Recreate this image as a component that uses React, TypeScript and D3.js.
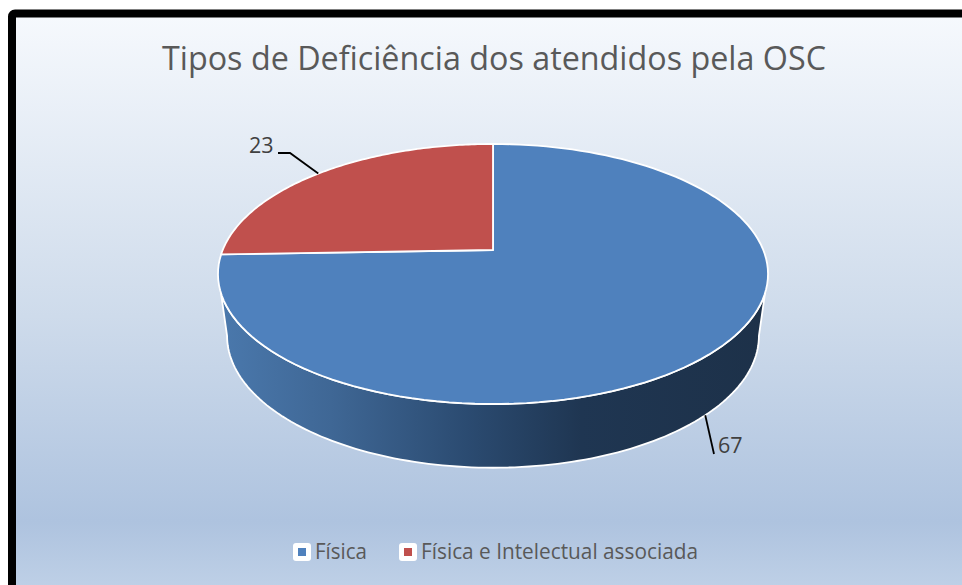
import React from "react";
import * as d3 from "d3";

const categories = ["Física", "Física e Intelectual associada"];
const values = [67, 23];
const colors = ["#4F81BD", "#C0504D"];
const titleText = "Tipos de Deficiência dos atendidos pela OSC";

const W = 962, H = 585;
const cx = 493, topY = 250, R = 270.3, A = 125.6, K = 0.1846;
const botY = 320, Rb = 264, Ab = 130, Kb = 0.12;

// perspective projection of a point at angle a (clockwise from the back of the disc)
const project = (a: number, r: number, amp: number, y0: number, k: number): [number, number] => {
  const u = Math.sin(a), v = -Math.cos(a), w = 1 - k * v;
  return [cx + (r * u) / w, y0 + (amp * v) / w];
};
const top = (a: number) => project(a, R, A, topY, K);
const bottom = (a: number) => project(a, Rb, Ab, botY, Kb);

const line = d3.line();
const sample = (a0: number, a1: number, f: (a: number) => [number, number]) =>
  d3.range(0, 121).map((i) => f(a0 + ((a1 - a0) * i) / 120));

const pie = d3.pie<number>().sort(null).startAngle(0).endAngle(2 * Math.PI);
const arcs = pie(values);

const sliceD = (a0: number, a1: number) =>
  line([[cx, topY], ...sample(a0, a1, top)]) + "Z";

// the wall leaves the rim a little below its widest point and reaches the lower rim at that rim's widest point
const wallStart = 1.9;
const widestB = Math.PI / 2 + Math.asin(Kb);
const wallD =
  line([
    ...sample(wallStart, 2 * Math.PI - wallStart, top),
    ...sample(2 * Math.PI - widestB, widestB, bottom),
  ]) + "Z";

const wallStops: [number, string][] = [
  [0, "#4A78AC"],
  [0.2, "#3F6795"],
  [0.45, "#2B4B71"],
  [0.66, "#1F3652"],
  [1, "#1D3149"],
];
const bgStops: [number, string][] = [
  [0, "#F6F9FD"],
  [0.5, "#CEDBEB"],
  [0.84, "#AEC3DF"],
  [1, "#C6D6EA"],
];

const legendX = [300, 406];
const legendLabelX = [315, 421];
const legendY = 552;

export default function App() {
  const a67 = arcs[0].startAngle + 2.31;
  const a23 = arcs[1].startAngle + 0.79;
  const p67 = bottom(a67);
  const p23 = top(a23);
  return (
    <svg
      width={W}
      height={H}
      viewBox={`0 0 ${W} ${H}`}
      style={{ position: "absolute", left: 0, top: 0, display: "block" }}
      fontFamily="'Open Sans', sans-serif"
    >
      <defs>
        <linearGradient id="bg" x1="0" y1="0" x2="0" y2="1">
          {bgStops.map(([o, c]) => <stop key={o} offset={o} stopColor={c} />)}
        </linearGradient>
        <linearGradient id="wall" gradientUnits="userSpaceOnUse" x1={222} x2={766} y1={0} y2={0}>
          {wallStops.map(([o, c]) => <stop key={o} offset={o} stopColor={c} />)}
        </linearGradient>
      </defs>
      <rect width={W} height={H} fill="#fff" />
      <rect x={12} y={13.5} width={W + 20} height={H + 20} rx={3} fill="url(#bg)" stroke="#000" strokeWidth={8} />
      <text x={494} y={70} textAnchor="middle" fontSize={32.5} fill="#595959" textLength={664} lengthAdjust="spacingAndGlyphs">
        {titleText}
      </text>
      <path d={wallD} fill="url(#wall)" stroke="#fff" strokeWidth={1.8} strokeLinejoin="round" />
      {arcs.map((d, i) => (
        <path key={i} d={sliceD(d.startAngle, d.endAngle)} fill={colors[i]} stroke="#fff" strokeWidth={1.8} strokeLinejoin="round" />
      ))}
      <path d={line([[p23[0], p23[1]], [290, 153], [278, 153]]) ?? ""} fill="none" stroke="#000" strokeWidth={1.8} />
      <path d={line([[p67[0], p67[1]], [714, 454]]) ?? ""} fill="none" stroke="#000" strokeWidth={1.8} />
      <text x={249} y={153} fontSize={21.5} fill="#404040">{values[1]}</text>
      <text x={718} y={453} fontSize={21.5} fill="#404040">{values[0]}</text>
      {categories.map((c, i) => (
        <g key={c}>
          <rect x={legendX[i] - 7} y={legendY - 9} width={18} height={18} rx={3} fill="#fff" />
          <rect x={legendX[i] - 2} y={legendY - 4} width={8} height={8} fill={colors[i]} />
          <text x={legendLabelX[i]} y={legendY + 7} fontSize={21} fill="#595959" textLength={i === 0 ? 52 : 277} lengthAdjust="spacingAndGlyphs">{c}</text>
        </g>
      ))}
    </svg>
  );
}
